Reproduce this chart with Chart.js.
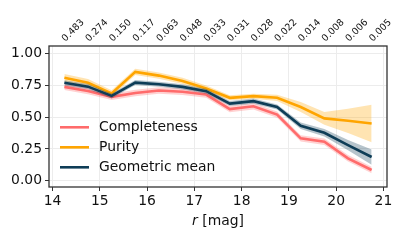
<!DOCTYPE html>
<html>
<head>
<meta charset="utf-8">
<script src="https://cdn.jsdelivr.net/npm/chart.js@4.4.1/dist/chart.umd.min.js"></script>
<style>
  html, body { margin: 0; padding: 0; background: #fff; }
  #wrap { width: 411px; height: 247px; }
</style>
</head>
<body>
<div id="wrap"><canvas id="perf-chart" width="411" height="247"></canvas></div>
<script>
// r-band magnitude bin centres
const magBins = [14.25, 14.75, 15.25, 15.75, 16.25, 16.75, 17.25, 17.75, 18.25, 18.75, 19.25, 19.75, 20.25, 20.75];
// fraction labels on the top axis
const fracLabels = ["0.483", "0.274", "0.150", "0.117", "0.063", "0.048", "0.033", "0.031", "0.028", "0.022", "0.014", "0.008", "0.006", "0.005"];

const completeness = [0.738, 0.706, 0.660, 0.690, 0.710, 0.700, 0.678, 0.563, 0.586, 0.520, 0.333, 0.306, 0.176, 0.084];
const completenessErr = [0.025, 0.025, 0.025, 0.025, 0.025, 0.025, 0.025, 0.025, 0.025, 0.025, 0.025, 0.025, 0.025, 0.025];

const purity = [0.810, 0.770, 0.686, 0.856, 0.827, 0.785, 0.725, 0.652, 0.665, 0.652, 0.580, 0.490, 0.471, 0.450];
const purityErr = [0.030, 0.030, 0.025, 0.025, 0.025, 0.025, 0.025, 0.020, 0.020, 0.025, 0.040, 0.050, 0.095, 0.147];

const geoMean = [0.770, 0.740, 0.667, 0.772, 0.759, 0.738, 0.704, 0.607, 0.626, 0.580, 0.432, 0.377, 0.280, 0.186];
const geoMeanErr = [0.020, 0.020, 0.020, 0.020, 0.020, 0.020, 0.020, 0.020, 0.020, 0.020, 0.025, 0.030, 0.040, 0.060];

const xTicks = [14, 15, 16, 17, 18, 19, 20, 21];
const yTicks = [0, 0.25, 0.5, 0.75, 1.0];

const seriesList = [
  { name: "Completeness", values: completeness, err: completenessErr, color: "#ff6b6b", band: "rgba(255,107,107,0.3)" },
  { name: "Purity", values: purity, err: purityErr, color: "#ffa500", band: "rgba(255,165,0,0.3)" },
  { name: "Geometric mean", values: geoMean, err: geoMeanErr, color: "#0e3d57", band: "rgba(14,61,87,0.3)" },
];

const FONT = "'DejaVu Sans', sans-serif";

const toPoints = (vals) => magBins.map((m, i) => ({ x: m, y: vals[i] }));

let datasets = [];
let order = 20;
seriesList.forEach((s) => {
  datasets.push({
    label: s.name + " lo",
    data: toPoints(s.values.map((v, i) => v - s.err[i])),
    borderWidth: 0,
    pointRadius: 0,
    fill: false,
    order: order--,
  });
  datasets.push({
    label: s.name + " hi",
    data: toPoints(s.values.map((v, i) => v + s.err[i])),
    borderWidth: 0,
    pointRadius: 0,
    backgroundColor: s.band,
    fill: "-1",
    order: order--,
  });
  datasets.push({
    label: s.name,
    data: toPoints(s.values),
    borderColor: s.color,
    borderWidth: 2.6,
    pointRadius: 0,
    fill: false,
    order: order--,
  });
});

// frame, top fraction labels, legend and axis title
const extrasPlugin = {
  id: "extras",
  afterDraw(chart) {
    const { ctx, chartArea } = chart;
    const xs = chart.scales.x;
    ctx.save();

    ctx.strokeStyle = "#333";
    ctx.lineWidth = 1.3;
    ctx.strokeRect(chartArea.left, chartArea.top, chartArea.right - chartArea.left, chartArea.bottom - chartArea.top);

    // top labels
    ctx.fillStyle = "#111";
    ctx.font = "9.5px " + FONT;
    ctx.textAlign = "left";
    ctx.textBaseline = "alphabetic";
    magBins.forEach((m, i) => {
      const px = xs.getPixelForValue(m);
      ctx.save();
      ctx.translate(px + 1, chartArea.top - 4);
      ctx.rotate(-Math.PI / 4);
      ctx.fillText(fracLabels[i], 0, 0);
      ctx.restore();
    });

    // legend
    ctx.font = "13.9px " + FONT;
    ctx.textBaseline = "middle";
    seriesList.forEach((s, i) => {
      const y = 127.3 + i * 20;
      ctx.strokeStyle = s.color;
      ctx.lineWidth = 2.6;
      ctx.beginPath();
      ctx.moveTo(60, y);
      ctx.lineTo(89, y);
      ctx.stroke();
      ctx.fillStyle = "#111";
      ctx.fillText(s.name, 99, y + 0.5);
    });

    // x title: italic r
    const cx = (chartArea.left + chartArea.right) / 2;
    const ty = 221.5;
    ctx.font = "italic 13.9px " + FONT;
    const w1 = ctx.measureText("r").width;
    ctx.font = "13.9px " + FONT;
    const w2 = ctx.measureText(" [mag]").width;
    const startX = cx - (w1 + w2) / 2;
    ctx.font = "italic 13.9px " + FONT;
    ctx.fillText("r", startX, ty);
    ctx.font = "13.9px " + FONT;
    ctx.fillText(" [mag]", startX + w1, ty);

    ctx.restore();
  },
};

new Chart("perf-chart", {
  type: "line",
  data: { datasets: datasets },
  options: {
    responsive: false,
    animation: false,
    layout: { padding: { top: 46, right: 24, left: 0, bottom: 0 } },
    plugins: {
      legend: { display: false },
      tooltip: { enabled: false },
      filler: { propagate: false },
    },
    scales: {
      x: {
        type: "linear",
        min: 13.925,
        max: 21.075,
        afterBuildTicks: (scale) => {
          scale.ticks = xTicks.map((v) => ({ value: v }));
        },
        afterFit: (scale) => {
          scale.height = 60;
        },
        grid: { color: "#ececec", tickColor: "#333", tickLength: 4, lineWidth: 1 },
        border: { display: false },
        ticks: {
          color: "#111",
          font: { family: FONT, size: 13.9 },
          padding: 2,
          maxRotation: 0,
          callback: (v) => String(v),
        },
      },
      y: {
        min: -0.05,
        max: 1.06,
        afterBuildTicks: (scale) => {
          scale.ticks = yTicks.map((v) => ({ value: v }));
        },
        afterFit: (scale) => {
          scale.width = 49;
        },
        grid: { color: "#ececec", tickColor: "#333", tickLength: 4, lineWidth: 1 },
        border: { display: false },
        ticks: {
          color: "#111",
          font: { family: FONT, size: 13.9 },
          padding: 3,
          callback: (v) => v.toFixed(2),
        },
      },
    },
  },
  plugins: [extrasPlugin],
});
</script>
</body>
</html>
